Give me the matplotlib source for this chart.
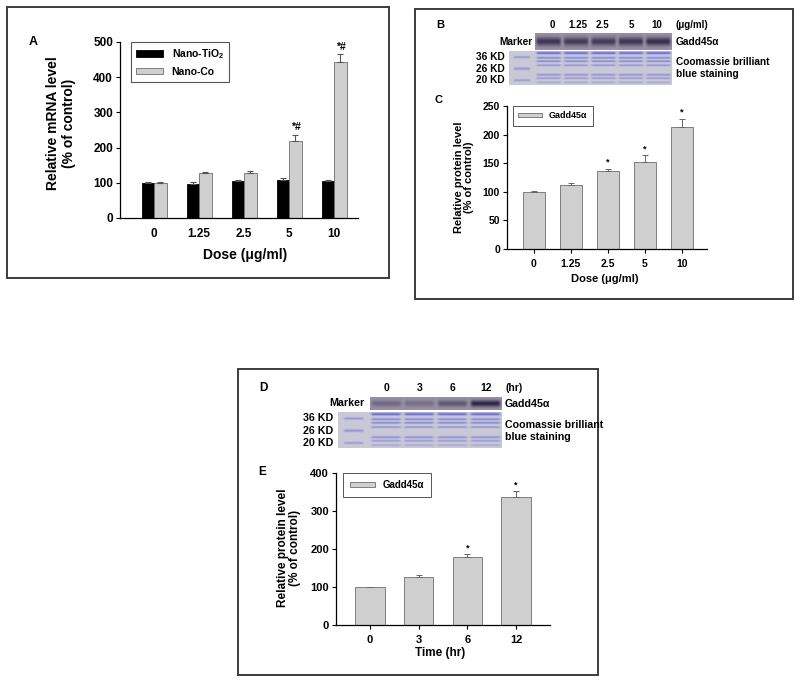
import numpy as np
import matplotlib
matplotlib.use('Agg')
import matplotlib.pyplot as plt
from matplotlib.patches import Rectangle

W, H = 800, 684

plt.rcParams['font.family'] = ['Liberation Sans', 'DejaVu Sans']
plt.rcParams['font.weight'] = 'bold'
plt.rcParams['mathtext.fontset'] = 'custom'
plt.rcParams['mathtext.rm'] = 'Liberation Sans:bold'
plt.rcParams['mathtext.it'] = 'Liberation Sans:bold'
plt.rcParams['mathtext.bf'] = 'Liberation Sans:bold'

# --- data ---
dose_labels = ['0', '1.25', '2.5', '5', '10']
tio2_mrna = [100, 97, 106, 107, 104]
tio2_mrna_err = [2, 4, 1, 7, 4]
co_mrna = [100, 128, 127, 218, 442]
co_mrna_err = [3, 2, 6, 19, 25]
mrna_marks = ['', '', '', '*#', '*#']

dose_protein = [100, 112, 137, 152, 214]
dose_protein_err = [1, 3, 3, 12, 14]
dose_marks = ['', '', '*', '*', '*']

time_labels = ['0', '3', '6', '12']
time_protein = [100, 127, 180, 336]
time_protein_err = [1, 5, 6, 16]
time_marks = ['', '', '*', '*']

# relative darkness of the Gadd45a band in each lane
dose_band = [0.8, 0.75, 0.75, 0.8, 0.85]
time_band = [0.35, 0.3, 0.5, 0.95]

GRAY = '#cfcfcf'
EDGE = '#6e6e6e'

fig = plt.figure(figsize=(8, 6.84), dpi=100)


def px_axes(x0, y0, x1, y1):
    return fig.add_axes([x0 / W, 1 - y1 / H, (x1 - x0) / W, (y1 - y0) / H])


def ftext(x, y, s, **kw):
    fig.text(x / W, 1 - y / H, s, **kw)


def box(x0, y0, x1, y1):
    fig.patches.append(Rectangle((x0 / W, 1 - y1 / H), (x1 - x0) / W, (y1 - y0) / H,
                                 transform=fig.transFigure, fill=False,
                                 edgecolor='#3c3c3c', lw=1.4))


def style_axes(ax, fs):
    ax.spines['top'].set_visible(False)
    ax.spines['right'].set_visible(False)
    ax.spines['left'].set_linewidth(0.9)
    ax.spines['bottom'].set_linewidth(0.9)
    ax.tick_params(axis='y', direction='out', length=3, width=0.8, labelsize=fs, pad=2)
    ax.tick_params(axis='x', direction='out', length=3, width=0.8, labelsize=fs, pad=4)


def western_strip(ax, bands):
    n = len(bands)
    xs = (np.arange(60 * n) + 0.5) / 60
    ys = (np.arange(40) + 0.5) / 40
    lp = xs % 1
    hprof = np.clip(np.minimum(lp, 1 - lp) / 0.12, 0, 1)
    vprof = np.exp(-((ys - 0.5) / 0.24) ** 2)
    strength = np.array(bands)[np.floor(xs).astype(int)]
    d = vprof[:, None] * (hprof * strength)[None, :]
    bg = np.array([0.60, 0.57, 0.65])
    dark = np.array([0.15, 0.12, 0.24])
    img = bg * (1 - d[..., None]) + dark * d[..., None]
    ax.imshow(img, aspect='auto', interpolation='bilinear')
    ax.axis('off')


def coomassie(ax, n, marker_w=0.95):
    total = marker_w + n
    xs = (np.arange(int(60 * total)) + 0.5) / 60
    ys = (np.arange(80) + 0.5) / 80
    sample_bands = [(0.06, 0.035, 1.0), (0.2, 0.025, 0.75), (0.3, 0.025, 0.75),
                    (0.42, 0.025, 0.6), (0.7, 0.03, 0.6), (0.8, 0.025, 0.55),
                    (0.92, 0.025, 0.4)]
    marker_bands = [(0.18, 0.03, 0.55), (0.52, 0.035, 0.55), (0.86, 0.03, 0.5)]
    d = np.zeros((len(ys), len(xs)))
    in_marker = xs < marker_w
    lp = np.where(in_marker, xs / marker_w, (xs - marker_w) % 1)
    hs = np.clip(np.minimum(lp, 1 - lp) / 0.12, 0, 1)
    hm = np.clip((np.minimum(lp, 1 - lp) - 0.15) / 0.08, 0, 1)
    for y, s, a in sample_bands:
        d += a * np.exp(-((ys - y) / s) ** 2)[:, None] * (hs * ~in_marker)[None, :]
    for y, s, a in marker_bands:
        d += a * np.exp(-((ys - y) / s) ** 2)[:, None] * (hm * in_marker)[None, :]
    d = np.clip(d, 0, 1)
    bg = np.array([0.79, 0.79, 0.84])
    blue = np.array([0.40, 0.40, 0.86])
    img = bg * (1 - d[..., None]) + blue * d[..., None]
    ax.imshow(img, aspect='auto', interpolation='bilinear')
    ax.axis('off')


def mark_bars(ax, xs, vals, errs, marks, fs):
    for x, v, e, m in zip(xs, vals, errs, marks):
        if m:
            ax.annotate(m, (x, v + e), xytext=(0, 1.5), textcoords='offset points',
                        ha='center', va='bottom', fontsize=fs)


# ---------------- panel A ----------------
box(7, 7, 389, 278)
axA = px_axes(120, 42, 358, 218)
xa = np.arange(len(dose_labels))
bw = 0.28
axA.bar(xa - bw / 2, tio2_mrna, bw, color='black', edgecolor='black', lw=0.6,
        yerr=[np.zeros(5), tio2_mrna_err], error_kw=dict(ecolor='#555555', capsize=2.5, elinewidth=0.8, capthick=0.8),
        label='Nano-TiO$_2$')
axA.bar(xa + bw / 2, co_mrna, bw, color=GRAY, edgecolor=EDGE, lw=0.6,
        yerr=[np.zeros(5), co_mrna_err], error_kw=dict(ecolor='#555555', capsize=2.5, elinewidth=0.8, capthick=0.8),
        label='Nano-Co')
mark_bars(axA, xa + bw / 2, co_mrna, co_mrna_err, mrna_marks, 7.5)
axA.set_xlim(-0.76, 4.53)
axA.set_ylim(0, 500)
axA.set_yticks(range(0, 501, 100))
axA.set_xticks(xa)
axA.set_xticklabels(dose_labels)
style_axes(axA, 8.5)
axA.tick_params(axis='x', length=0, pad=7)
legA = axA.legend(loc='upper left', bbox_to_anchor=(0.046, 1.0), borderaxespad=0,
                  fontsize=7.5, handlelength=2.6, handleheight=0.6, labelspacing=0.55,
                  fancybox=False, framealpha=1, edgecolor='#555555', borderpad=0.5)
legA.get_frame().set_linewidth(0.8)
ftext(33, 42, 'A', fontsize=9, ha='center', va='center')
ftext(61, 123, 'Relative mRNA level\n(% of control)', fontsize=10, rotation=90,
      ha='center', va='center', linespacing=1.1)
ftext(245, 255, 'Dose (\u03bcg/ml)', fontsize=10, ha='center', va='center')

# ---------------- panel B ----------------
box(415, 9, 793, 299)
ftext(440, 25, 'B', fontsize=8, ha='center', va='center')
for lx, lab in zip([552, 578, 602, 631, 657], dose_labels):
    ftext(lx, 25, lab, fontsize=7, ha='center', va='center')
ftext(676, 25, '(\u03bcg/ml)', fontsize=7, ha='left', va='center')
western_strip(px_axes(535, 33, 672, 50), dose_band)
coomassie(px_axes(509, 51, 672, 85), len(dose_band))
ftext(533, 42, 'Marker', fontsize=7.3, ha='right', va='center')
for ky, kl in zip([57, 69, 80], ['36 KD', '26 KD', '20 KD']):
    ftext(505, ky, kl, fontsize=7.3, ha='right', va='center')
ftext(676, 42, 'Gadd45\u03b1', fontsize=7.3, ha='left', va='center')
ftext(676, 68, 'Coomassie brilliant\nblue staining', fontsize=7.3, ha='left', va='center',
      linespacing=1.15)

# ---------------- panel C ----------------
ftext(439, 100, 'C', fontsize=8, ha='center', va='center')
axC = px_axes(507, 106, 707, 249)
xc = np.arange(len(dose_labels))
axC.bar(xc, dose_protein, 0.6, color=GRAY, edgecolor=EDGE, lw=0.6,
        yerr=[np.zeros(5), dose_protein_err], error_kw=dict(ecolor='#666666', capsize=2, elinewidth=0.7, capthick=0.7),
        label='Gadd45\u03b1')
mark_bars(axC, xc, dose_protein, dose_protein_err, dose_marks, 6.5)
axC.set_xlim(-0.73, 4.68)
axC.set_ylim(0, 250)
axC.set_yticks(range(0, 251, 50))
axC.set_xticks(xc)
axC.set_xticklabels(dose_labels)
style_axes(axC, 7.5)
legC = axC.legend(loc='upper left', bbox_to_anchor=(0.03, 1.0), borderaxespad=0,
                  fontsize=6.5, handlelength=2.6, handleheight=0.35,
                  fancybox=False, framealpha=1, edgecolor='#555555', borderpad=0.6)
legC.get_frame().set_linewidth(0.7)
ftext(464, 177, 'Relative protein level\n(% of control)', fontsize=8, rotation=90,
      ha='center', va='center', linespacing=1.1)
ftext(605, 279, 'Dose (\u03bcg/ml)', fontsize=8, ha='center', va='center')

# ---------------- panel D ----------------
box(238, 369, 598, 675)
ftext(263, 388, 'D', fontsize=8.5, ha='center', va='center')
for lx, lab in zip([387, 420, 453, 486], time_labels):
    ftext(lx, 388, lab, fontsize=7.5, ha='center', va='center')
ftext(505, 388, '(hr)', fontsize=7.5, ha='left', va='center')
western_strip(px_axes(370, 397, 502, 410), time_band)
coomassie(px_axes(338, 412, 502, 448), len(time_band))
ftext(364, 403, 'Marker', fontsize=7.7, ha='right', va='center')
for ky, kl in zip([418, 431, 443], ['36 KD', '26 KD', '20 KD']):
    ftext(333, ky, kl, fontsize=7.7, ha='right', va='center')
ftext(505, 404, 'Gadd45\u03b1', fontsize=7.7, ha='left', va='center')
ftext(505, 431, 'Coomassie brilliant\nblue staining', fontsize=7.7, ha='left', va='center',
      linespacing=1.15)

# ---------------- panel E ----------------
ftext(262, 472, 'E', fontsize=8.5, ha='center', va='center')
axE = px_axes(336, 473, 550, 625)
xe = np.arange(len(time_labels))
axE.bar(xe, time_protein, 0.6, color=GRAY, edgecolor=EDGE, lw=0.6,
        yerr=[np.zeros(4), time_protein_err], error_kw=dict(ecolor='#666666', capsize=2, elinewidth=0.7, capthick=0.7),
        label='Gadd45\u03b1')
mark_bars(axE, xe, time_protein, time_protein_err, time_marks, 6.5)
axE.set_xlim(-0.7, 3.7)
axE.set_ylim(0, 400)
axE.set_yticks(range(0, 401, 100))
axE.set_xticks(xe)
axE.set_xticklabels(time_labels)
style_axes(axE, 8)
legE = axE.legend(loc='upper left', bbox_to_anchor=(0.033, 1.0), borderaxespad=0,
                  fontsize=7, handlelength=2.6, handleheight=0.35,
                  fancybox=False, framealpha=1, edgecolor='#555555', borderpad=0.7)
legE.get_frame().set_linewidth(0.7)
ftext(289, 548, 'Relative protein level\n(% of control)', fontsize=8.5, rotation=90,
      ha='center', va='center', linespacing=1.1)
ftext(440, 653, 'Time (hr)', fontsize=8.5, ha='center', va='center')

fig.savefig('out.png', dpi=100)
